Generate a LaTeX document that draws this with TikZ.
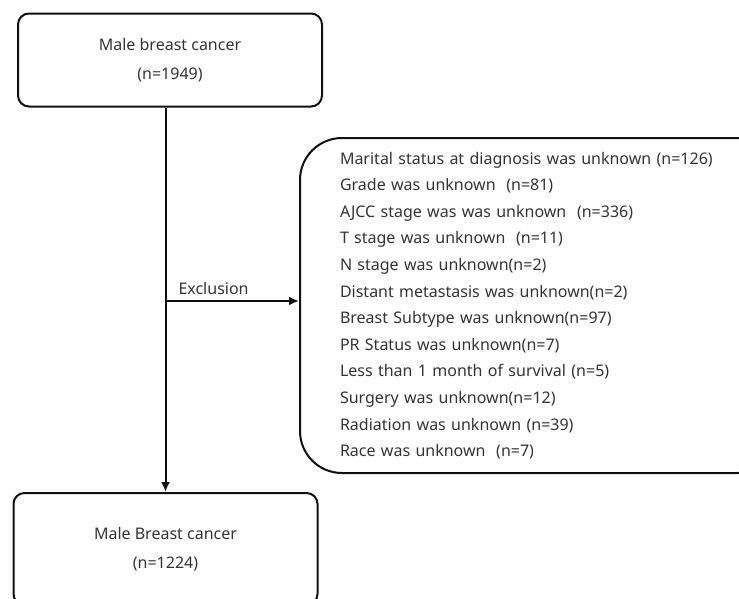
\documentclass[tikz,border=0pt]{standalone}
\usepackage{fontspec}
\setmainfont{Noto Sans}
\definecolor{boxline}{HTML}{111111}
\definecolor{textmain}{HTML}{333333}
\usetikzlibrary{positioning,arrows.meta}

\begin{document}
\begin{tikzpicture}[x=1pt,y=-1pt,
  flowbox/.style={draw=boxline,line width=2pt,rounded corners=11pt,
                  text=textmain,align=center,font=\fontsize{16}{28.5}\selectfont,
                  minimum width=304pt,minimum height=93pt},
  exbox/.style={draw=boxline,line width=2pt,rounded corners=42pt,
                text=textmain,align=left,font=\fontsize{16}{26.6}\selectfont,
                text width=400pt,inner xsep=40pt,
                minimum height=335pt},
  arr/.style={-{Latex[length=10pt,width=9pt]},line width=2pt,boxline}
]
  \useasboundingbox (0,0) rectangle (739,598);
  \clip (0,0) rectangle (739,598);
  % boxes
  \node[flowbox] (start) at (170,60) {Male breast cancer\\(n=1949)};
  \node[flowbox,minimum height=112pt] (final) at (165.5,549) {Male Breast cancer\\(n=1224)};
  \node[exbox,anchor=north west] (excl) at (299,137) {%
    Marital status at diagnosis was unknown (n=126)\\
    Grade was unknown\ \ (n=81)\\
    AJCC stage was was unknown\ \ (n=336)\\
    T stage was unknown\ \ (n=11)\\
    N stage was unknown(n=2)\\
    Distant metastasis was unknown(n=2)\\
    Breast Subtype was unknown(n=97)\\
    PR Status was unknown(n=7)\\
    Less than 1 month of survival (n=5)\\
    Surgery was unknown(n=12)\\
    Radiation was unknown (n=39)\\
    Race was unknown\ \ (n=7)};
  % connectors
  \coordinate (split) at (165.5,301);
  \draw[arr] (start.south -| final.north) -- (final.north);
  \draw[arr] (split) -- node[above,pos=0.36,yshift=2pt,text=textmain,font=\fontsize{16}{19}\selectfont] (exlabel) {Exclusion} (split -| excl.west);
\end{tikzpicture}
\end{document}
